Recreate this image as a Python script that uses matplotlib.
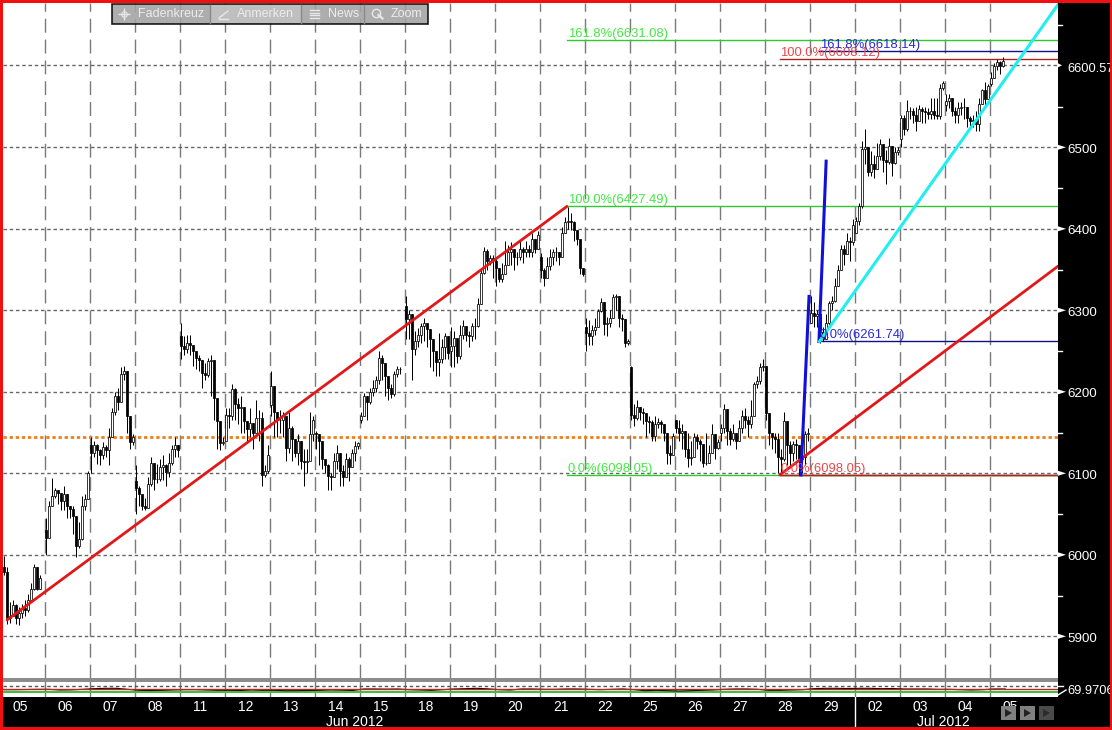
import matplotlib
matplotlib.use("Agg")
import matplotlib.pyplot as plt
from matplotlib.patches import Rectangle, Polygon

plt.rcParams['font.family'] = ['Liberation Sans', 'DejaVu Sans']

W, H = 1112, 730
PX_DAY = 45.0
X0 = -0.5
SLOT = 3.0
Y6500 = 147.3
PX_PER_PT = 0.815

# ---------- data: one list per session ----------
day_labels = ['05','06','07','08','11','12','13','14','15','18','19','20','21','22','25','26','27','28','29','02','03','04','05']
day_open = [5985,6031,6135,6090,6268,6140,6184,6150,6166,6305,6250,6360,6365,6280,6230,6165,6150,6232,6285,6395,6510,6552,6578]
first_slot = [1]+[0]*22

closes = [
 [5979,5922,5925,5938,5922,5928,5935,5932,5945,5958,5985,5958,5972],
 [6021,6060,6072,6079,6076,6066,6075,6060,6056,6048,6011,6020,6060,6068,6100],
 [6125,6135,6128,6122,6132,6128,6145,6175,6195,6188,6222,6225,6170,6138,6145],
 [6082,6075,6060,6058,6087,6113,6093,6093,6108,6110,6101,6113,6130,6135,6129],
 [6256,6252,6260,6258,6250,6241,6239,6223,6221,6238,6239,6193,6164,6137,6139],
 [6172,6170,6203,6185,6180,6181,6164,6154,6162,6150,6168,6168,6098,6103,6122],
 [6207,6175,6165,6165,6170,6131,6155,6142,6125,6140,6115,6114,6115,6148,6166],
 [6148,6140,6117,6110,6097,6095,6115,6125,6103,6095,6117,6108,6125,6133,6137],
 [6170,6195,6188,6200,6205,6215,6242,6235,6219,6205,6197,6222,6228,6228],
 [6289,6295,6252,6262,6270,6281,6285,6277,6265,6250,6236,6240,6255,6269,6248],
 [6256,6266,6244,6270,6281,6270,6268,6281,6281,6308,6346,6373,6360,6364,6362],
 [6352,6338,6345,6356,6371,6375,6365,6365,6375,6372,6375,6372,6387,6375,6393],
 [6350,6340,6354,6365,6371,6371,6365,6395,6408,6410,6408,6399,6387,6352,6344],
 [6272,6268,6276,6280,6299,6310,6283,6285,6291,6316,6318,6291,6289,6260,6262],
 [6172,6168,6181,6175,6174,6164,6163,6146,6160,6163,6160,6150,6125,6122,6146],
 [6156,6150,6152,6130,6119,6120,6144,6140,6136,6113,6113,6125,6148,6131,6138],
 [6156,6179,6152,6142,6150,6140,6156,6170,6165,6160,6170,6209,6213,6230,6232],
 [6174,6150,6144,6142,6120,6118,6164,6135,6125,6136,6135,6118,6120,6148,6150],
 [6297,6293,6295,6273,6265,6285,6309,6311,6330,6350,6375,6369,6385,6384,6405],
 [6410,6428,6498,6500,6470,6479,6473,6489,6504,6485,6482,6502,6481,6494,6497],
 [6536,6522,6545,6544,6540,6532,6547,6544,6543,6541,6544,6540,6538,6573,6579],
 [6557,6560,6545,6540,6548,6550,6550,6536,6532,6534,6528,6553,6570,6559,6575],
 [6585,6600,6605,6600,6606],
]
highs = [
 [5999,5985,5942,5945,5940,5936,5940,5945,5952,5965,5989,5985,5975],
 [6045,6066,6094,6082,6080,6072,6085,6072,6060,6060,6025,6040,6072,6075,6103],
 [6145,6140,6136,6130,6138,6135,6155,6180,6200,6205,6230,6232,6195,6145,6148],
 [6110,6085,6072,6070,6095,6120,6105,6112,6118,6122,6112,6125,6135,6145,6135],
 [6285,6268,6270,6270,6258,6248,6245,6232,6235,6242,6245,6200,6190,6150,6145],
 [6180,6180,6210,6205,6192,6195,6175,6162,6180,6158,6190,6178,6175,6110,6135],
 [6225,6205,6170,6178,6175,6148,6175,6158,6140,6148,6135,6130,6130,6175,6170],
 [6152,6146,6125,6115,6112,6100,6125,6135,6110,6110,6125,6120,6130,6140,6138],
 [6175,6198,6195,6205,6215,6220,6250,6245,6225,6220,6210,6225,6232,6230],
 [6318,6300,6285,6275,6278,6285,6290,6282,6275,6260,6245,6272,6265,6272,6255],
 [6280,6275,6262,6282,6288,6278,6275,6285,6290,6315,6350,6378,6375,6368,6368],
 [6365,6352,6358,6385,6380,6384,6375,6372,6386,6378,6385,6380,6395,6385,6397],
 [6370,6352,6365,6375,6375,6378,6372,6402,6415,6427,6420,6410,6399,6387,6350],
 [6290,6288,6282,6290,6302,6315,6305,6292,6300,6320,6320,6305,6295,6285,6265],
 [6232,6185,6190,6180,6180,6170,6170,6165,6170,6168,6165,6158,6140,6135,6150],
 [6162,6165,6160,6150,6150,6140,6150,6148,6142,6125,6150,6135,6160,6140,6142],
 [6160,6185,6165,6155,6160,6150,6165,6178,6180,6170,6190,6212,6220,6235,6240],
 [6232,6165,6150,6150,6150,6130,6175,6145,6140,6140,6142,6135,6145,6152,6155],
 [6318,6310,6300,6285,6280,6295,6312,6318,6340,6355,6380,6380,6395,6390,6412],
 [6415,6432,6508,6522,6500,6495,6490,6505,6510,6495,6497,6512,6495,6500,6500],
 [6540,6540,6558,6550,6548,6550,6552,6550,6550,6548,6560,6560,6560,6578,6581],
 [6565,6565,6555,6550,6555,6555,6560,6540,6538,6540,6545,6560,6572,6580,6578],
 [6592,6604,6608,6606,6611],
]
lows = [
 [5975,5915,5916,5925,5915,5914,5922,5925,5930,5945,5957,5957,5965],
 [6000,6025,6060,6070,6062,6055,6055,6045,6045,6025,5997,6008,6018,6055,6068],
 [6100,6120,6112,6110,6118,6120,6110,6145,6172,6178,6188,6215,6150,6130,6135],
 [6050,6060,6055,6055,6058,6085,6080,6088,6090,6092,6085,6095,6110,6120,6120],
 [6240,6245,6248,6245,6232,6228,6225,6205,6215,6218,6195,6165,6130,6128,6135],
 [6140,6155,6165,6165,6160,6150,6150,6140,6145,6130,6150,6140,6085,6095,6100],
 [6170,6145,6145,6150,6145,6115,6125,6115,6120,6110,6105,6085,6100,6115,6140],
 [6130,6110,6105,6100,6080,6080,6098,6105,6085,6085,6095,6090,6110,6115,6130],
 [6162,6170,6165,6185,6195,6200,6210,6215,6195,6190,6192,6195,6218,6222],
 [6265,6265,6215,6245,6255,6260,6262,6255,6230,6225,6220,6220,6235,6240,6240],
 [6230,6230,6235,6240,6265,6262,6255,6262,6265,6280,6310,6345,6350,6355,6340],
 [6330,6335,6335,6350,6360,6355,6350,6355,6362,6358,6365,6365,6365,6370,6375],
 [6340,6330,6340,6350,6355,6360,6355,6365,6395,6400,6398,6385,6380,6345,6342],
 [6250,6258,6258,6270,6280,6298,6270,6268,6280,6290,6300,6280,6275,6255,6258],
 [6165,6158,6165,6165,6160,6145,6150,6140,6140,6155,6150,6140,6112,6112,6122],
 [6150,6140,6130,6120,6108,6110,6125,6130,6115,6108,6110,6115,6130,6118,6130],
 [6140,6150,6135,6135,6140,6130,6140,6150,6155,6145,6155,6175,6205,6210,6225],
 [6165,6135,6130,6125,6100,6100,6115,6110,6108,6115,6118,6098,6100,6110,6140],
 [6285,6280,6280,6260,6262,6265,6280,6300,6310,6330,6350,6355,6370,6360,6380],
 [6395,6405,6425,6480,6465,6465,6462,6475,6485,6470,6455,6480,6465,6480,6490],
 [6500,6515,6520,6535,6530,6520,6532,6530,6530,6535,6535,6535,6535,6535,6570],
 [6545,6548,6538,6530,6530,6540,6535,6525,6522,6525,6520,6520,6555,6552,6560],
 [6575,6585,6595,6590,6598],
]

# Indicator sub-panel, four readings per session
indicator = [68,68,68.5,69, 69,67,67.5,69, 71,72,72,69, 66,65.5,66,67, 68,68,67,66,
             66,65.5,67,66, 66,65,65,65.5, 66,67,66.5,65.5, 70,70,69.5,70, 68,67,66,68,
             70,71,72,70.5, 68,67,70,70, 69,69,70,70, 69,68,69,70, 68,65,66,65,
             64,65,66,67, 69,70,70,69, 66,66,67,68, 71,72,72,71.5, 72,72,71,71.5,
             70,70,70,69, 69,68,67,68, 70,70]
ind_levels = [80, 70, 60]

# Price levels and trend lines (session position, price)
price_ticks = [5900,6000,6100,6200,6300,6400,6500]
last_price = 6600.57
minor_ticks = [5950,6050,6150,6250,6350,6450,6550,6650]
orange_level = 6145
fib_green = [(12.61,6631.08,'161.8%(6631.08)'),(12.61,6427.49,'100.0%(6427.49)'),(12.61,6098.05,'0.0%(6098.05)')]
fib_red = [(17.34,6608.12,'100.0%(6608.12)'),(17.34,6098.05,'0.0%(6098.05)')]
fib_blue = [(18.22,6618.14,'161.8%(6618.14)'),(18.21,6261.74,'0.0%(6261.74)')]
red_trend1 = ([0.167,12.61],[5920,6427.49])
red_trend2 = ([17.34,23.52],[6098.05,6354])
blue_trend1 = ([17.81,17.99],[6098.05,6317])
blue_trend2 = ([18.21,18.37],[6261.74,6483])
cyan_trend = ([18.22,23.52],[6261.74,6675])

# ---------- figure ----------
fig = plt.figure(figsize=(W/100, H/100), dpi=100, facecolor='black')

def axes_px(l, t, r, b, **kw):
    return fig.add_axes([l/W, 1-b/H, (r-l)/W, (b-t)/H], **kw)

ax = axes_px(3, 3, 1058, 678, facecolor='white')
ax.set_xlim((3-X0)/PX_DAY, (1058-X0)/PX_DAY)
ax.set_ylim(6500-(678-Y6500)/PX_PER_PT, 6500+(Y6500-3)/PX_PER_PT)
ax.axis('off')
ax.add_patch(Rectangle((0, 0), 1, 1, transform=ax.transAxes, fc='white', ec='none', zorder=0))

for d in range(1, 23):
    ax.axvline(d, color='#7a7a7a', lw=1, dashes=(10, 5), zorder=1)
for p in price_ticks + [last_price]:
    ax.axhline(p, color='#666666', lw=1, dashes=(2.5, 2), zorder=1)

# candles
for d, cl in enumerate(closes):
    prev = day_open[d]
    for k, c in enumerate(cl):
        j = first_slot[d] + k
        x = d + (1.5 + SLOT*j)/PX_DAY
        hi = max(highs[d][k], prev, c)
        lo = min(lows[d][k], prev, c)
        ax.vlines(x, lo, hi, color='black', lw=0.72, zorder=3)
        up = c >= prev
        ax.bar(x, abs(c-prev), bottom=min(c, prev), width=(2.2 if up else 1.6)/PX_DAY,
               facecolor='white' if up else 'black', edgecolor='black', linewidth=0.55, zorder=3.2)
        prev = c

# fib levels
ax.axhline(orange_level, color='#ee8018', lw=2, dashes=(1.2, 1.0), zorder=2)
def fib(levels, line_color, text_color, dx=0.5):
    for xs, lv, lab in levels:
        ax.plot([xs, 23.6], [lv, lv], color=line_color, lw=1, zorder=2)
        ax.annotate(lab, (xs, lv), xytext=(dx, 4.6), textcoords='offset points', color=text_color,
                    fontsize=9.4, va='center', ha='left', zorder=6)
fib(fib_green, '#2fc82f', '#44e844')
ax.plot([17.34, 23.6], [6098.05, 6098.05], color='#b02020', lw=1, zorder=2)
fib(fib_red, '#b02020', '#e8484a')
fib(fib_blue, '#101088', '#2a2ad8')

ax.plot(*red_trend1, color='#e01818', lw=2, zorder=4, solid_capstyle='round')
ax.plot(*red_trend2, color='#e01818', lw=2, zorder=4, solid_capstyle='round')
ax.plot(*blue_trend1, color='#1010d8', lw=2.2, zorder=4)
ax.plot(*blue_trend2, color='#1010d8', lw=2.2, zorder=4)
ax.plot(*cyan_trend, color='#22eef0', lw=2.2, zorder=4)

# indicator panel
axi = axes_px(3, 682, 1058, 697, facecolor='white')
axi.set_xlim(ax.get_xlim())
axi.set_ylim(46, 91)
axi.axis('off')
axi.add_patch(Rectangle((0, 0), 1, 1, transform=axi.transAxes, fc='white', ec='none', zorder=0))
for d in range(1, 23):
    axi.axvline(d, color='#7a7a7a', lw=1, zorder=1)
axi.axhline(ind_levels[0], color='#555555', lw=1, dashes=(2.5, 2), zorder=1)
axi.axhline(ind_levels[2], color='#38c038', lw=1.4, zorder=2)
ind_x = [i/4+0.1 for i in range(len(indicator))]
axi.plot(ind_x, indicator, color='black', lw=0.8, zorder=3)
axi.axhline(ind_levels[1], color='#c02020', lw=1, zorder=4)

# chrome layer in pixel coordinates
ov = fig.add_axes([0, 0, 1, 1], facecolor='none')
ov.set_xlim(0, W)
ov.set_ylim(H, 0)
ov.axis('off')
ov.add_patch(Rectangle((2, 678), 1056, 4, fc='#8c8c8c', ec='none', zorder=2))

# y ticks
def py(v):
    return Y6500 + (6500-v)*PX_PER_PT
for p in price_ticks:
    y = py(p)
    ov.add_patch(Polygon([(1058, y-2.5), (1066, y), (1058, y+2.5)], fc='white', ec='none', zorder=3))
    ov.text(1067.5, y+2.5, str(p), color='white', fontsize=9.6, va='center', ha='left', zorder=3)
for p in minor_ticks:
    ov.plot([1058, 1062], [py(p), py(p)], color='white', lw=1, zorder=3)
ov.add_patch(Polygon([(1058, py(last_price)-2), (1062, py(last_price)), (1058, py(last_price)+2)], fc='white', ec='none', zorder=3))
ov.text(1067, 68.5, f'{last_price}', color='white', fontsize=9.3, va='center', ha='left', zorder=3)
ov.text(1067, 691.5, '69.9706', color='white', fontsize=9.3, va='center', ha='left', zorder=3)
ov.plot([1058, 1063], [686, 686], color='white', lw=1, zorder=3)
ov.plot([1058, 1066], [695, 690], color='white', lw=1, zorder=3)

# x tick labels
for i, lab in enumerate(day_labels):
    ov.text(X0 + PX_DAY*i + 21, 707, lab, color='white', fontsize=10, ha='center', va='center', zorder=3)
ov.text(355, 722.5, 'Jun 2012', color='white', fontsize=10, ha='center', va='center', zorder=3)
ov.text(943, 722.5, 'Jul 2012', color='white', fontsize=10, ha='center', va='center', zorder=3)
ov.plot([854.5, 854.5], [697, 727], color='white', lw=1, zorder=3)

# player buttons on their black strip
ov.add_patch(Rectangle((1000, 706), 58, 17, fc='black', ec='none', zorder=4))
for x0, col, tri in [(1001, '#808080', '#222222'), (1020, '#808080', '#222222'), (1039, '#4a4a4a', '#2c2c2c')]:
    ov.add_patch(Rectangle((x0, 706), 15, 14, fc=col, ec='none', zorder=5))
    ov.add_patch(Polygon([(x0+4, 709), (x0+11, 713), (x0+4, 717)], fc=tri, ec='none', zorder=6))

# toolbar
ov.add_patch(Rectangle((112, 4), 316, 20, fc='#a2a2a2', ec='black', lw=1.2, alpha=0.88, zorder=5))
ov.add_patch(Rectangle((211, 5), 90, 18, fc='#c4c4c4', ec='none', alpha=0.8, zorder=5))
for x in (210, 301, 364):
    ov.plot([x, x], [5, 23], color='#8a8a8a', lw=1, zorder=6)
for x, lab in [(138, 'Fadenkreuz'), (237, 'Anmerken'), (328, 'News'), (391, 'Zoom')]:
    ov.text(x, 14, lab, color='#ececec', fontsize=9, va='center', ha='left', zorder=7)
ov.plot([124], [13.5], marker='+', ms=9, color='#e8e8e8', mew=1, zorder=7)
ov.plot([124], [13.5], marker='o', ms=4, mfc='none', color='#e8e8e8', mew=0.8, zorder=7)
ov.plot([219, 228], [18, 11], color='#e8e8e8', lw=1, zorder=7)
ov.plot([219, 228], [18.5, 18.5], color='#e8e8e8', lw=1, zorder=7)
for y in (10, 12.5, 15, 17.5):
    ov.plot([310, 319], [y, y], color='#e8e8e8', lw=1, zorder=7)
ov.plot([376], [12.5], marker='o', ms=6, mfc='none', color='#e8e8e8', mew=1, zorder=7)
ov.plot([378.5, 382.5], [15, 18.5], color='#e8e8e8', lw=1.6, zorder=7)

# red frame
for r in [(0, 0, W, 3), (0, 727, W, 3), (0, 0, 2.5, H), (1110, 0, 2, H)]:
    ov.add_patch(Rectangle((r[0], r[1]), r[2], r[3], fc='#f01010', ec='none', zorder=8))

fig.savefig('out.png', dpi=100, facecolor='black')
